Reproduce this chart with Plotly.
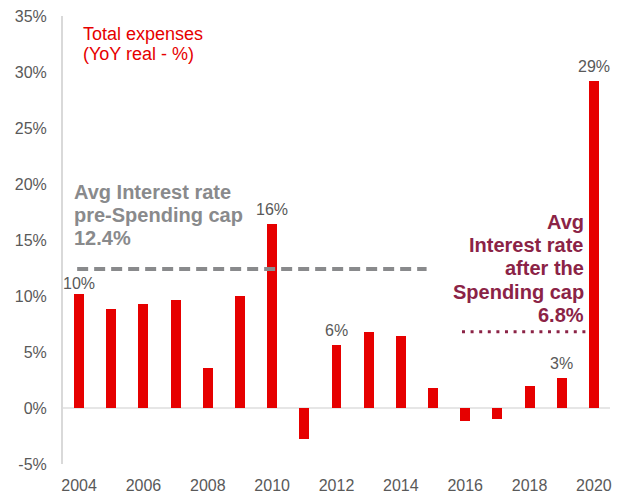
import plotly.graph_objects as go

# Total expenses, real year-over-year change (%)
years = list(range(2004, 2021))
expenses = [10.2, 8.8, 9.3, 9.6, 3.6, 10.0, 16.4, -2.8, 5.6, 6.8, 6.4, 1.8, -1.2, -1.0, 2.0, 2.7, 29.2]

# Bars that carry a value label
labelled_years = [2004, 2010, 2012, 2019, 2020]
label_texts = ["10%", "16%", "6%", "3%", "29%"]

# Average interest rates before / after the spending cap
avg_pre_cap = 12.4
avg_post_cap = 6.8
pre_cap_span = [2003.94, 2014.8]
post_cap_span = [2015.9, 2019.8]

# Text blocks, one entry per line (tight line spacing)
title_lines = ["Total expenses", "(YoY real - %)"]
pre_cap_lines = ["Avg Interest rate", "pre-Spending cap", "12.4%"]
post_cap_lines = ["Avg", "Interest rate", "after the", "Spending cap", "6.8%"]

y_ticks = [-5, 0, 5, 10, 15, 20, 25, 30, 35]
y_tick_text = [f"{v}%" for v in y_ticks]
x_ticks = list(range(2004, 2021, 2))

RED = "#E60000"
GREY_TXT = "#595959"
GREY_AVG = "#898A8C"
MAROON = "#8B2346"
FONT = "Liberation Sans, Arial, sans-serif"

fig = go.Figure()
fig.add_trace(go.Bar(
    x=years, y=expenses, marker=dict(color=RED, line=dict(width=0)),
    width=0.31, hoverinfo="x+y",
))

# pre-cap average (dashed) and post-cap average (dotted)
fig.add_shape(type="line", xref="x", yref="y",
              x0=pre_cap_span[0], x1=pre_cap_span[1], y0=avg_pre_cap, y1=avg_pre_cap,
              line=dict(color=GREY_AVG, width=4, dash="11px,6px"))
fig.add_shape(type="line", xref="x", yref="y",
              x0=post_cap_span[0], x1=post_cap_span[1], y0=avg_post_cap, y1=avg_post_cap,
              line=dict(color=MAROON, width=3, dash="3px,5.6px"))

annotations = []
val_by_year = dict(zip(years, expenses))
for yr, txt in zip(labelled_years, label_texts):
    annotations.append(dict(
        x=yr, y=val_by_year[yr], xref="x", yref="y", text=txt, showarrow=False,
        yanchor="bottom", yshift=0 if yr == 2004 else 4,
        font=dict(family=FONT, size=16, color=GREY_TXT),
    ))


def text_block(lines, x, y_top, step, xanchor, size, color, bold):
    """Stack lines of text with a fixed line step (in px)."""
    for i, line in enumerate(lines):
        annotations.append(dict(
            x=x, y=y_top, xref="x", yref="y", xanchor=xanchor, yanchor="middle",
            yshift=-i * step, text=f"<b>{line}</b>" if bold else line,
            showarrow=False, font=dict(family=FONT, size=size, color=color),
        ))


text_block(title_lines, 2004.05, 33.4, 20.5, "left", 18, RED, False)
text_block(pre_cap_lines, 2003.77, 19.3, 23.3, "left", 20, GREY_AVG, True)
text_block(post_cap_lines, 2019.74, 16.62, 23.3, "right", 20, MAROON, True)

fig.update_layout(
    width=618, height=496,
    margin=dict(l=63, r=8, t=16, b=32),
    paper_bgcolor="white", plot_bgcolor="white",
    showlegend=False,
    font=dict(family=FONT, size=16, color=GREY_TXT),
    annotations=annotations,
    bargap=0,
)
fig.update_xaxes(
    range=[2003.5, 2020.5], tickmode="array", tickvals=x_ticks,
    ticktext=[str(v) for v in x_ticks], automargin=False,
    showgrid=False, showline=False, zeroline=False, ticks="",
    tickfont=dict(family=FONT, size=16, color=GREY_TXT), ticklabelstandoff=10,
)
fig.update_yaxes(
    range=[-5, 35], tickmode="array", tickvals=y_ticks, ticktext=y_tick_text,
    automargin=False,
    showgrid=False, showline=True, linecolor="#D9D9D9", linewidth=2,
    zeroline=True, zerolinecolor="#E6E6E6", zerolinewidth=2, ticks="",
    tickfont=dict(family=FONT, size=16, color=GREY_TXT), ticklabelstandoff=11,
)

fig.write_html("out.html")
